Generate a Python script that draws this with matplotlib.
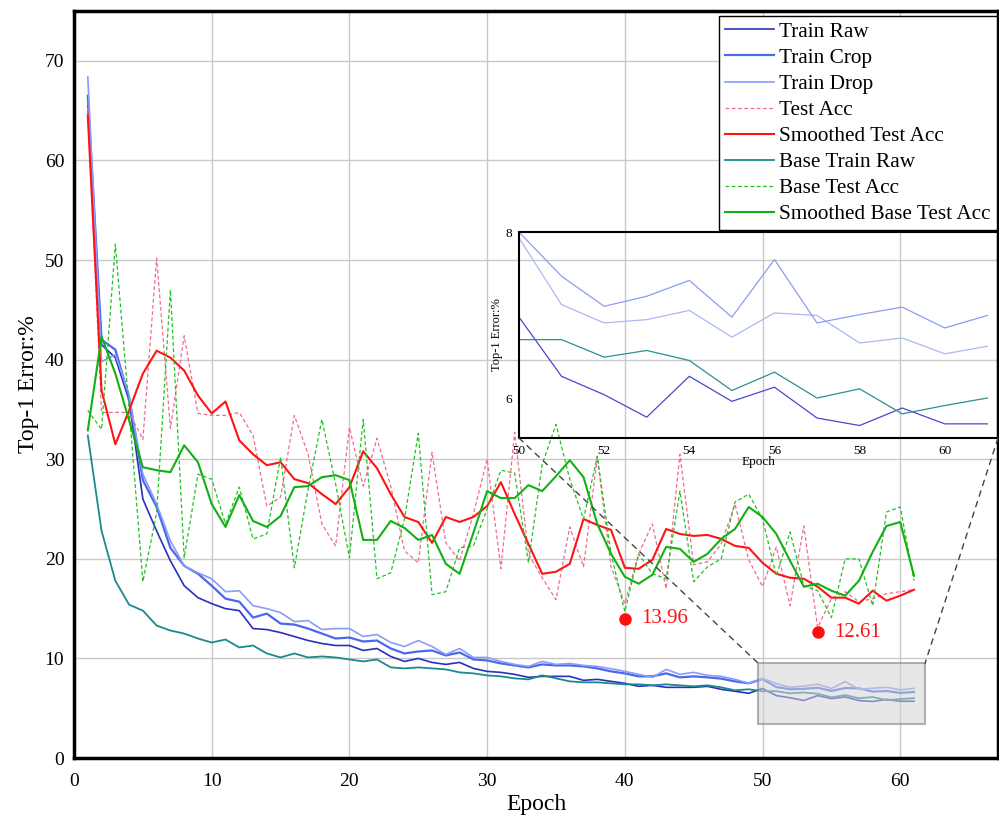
import matplotlib
matplotlib.use('Agg')
import matplotlib.pyplot as plt
from matplotlib.patches import Rectangle, ConnectionPatch

plt.rcParams['font.family'] = ['Liberation Serif', 'DejaVu Serif']

# Epochs 1..61
epochs = list(range(1, 62))

train_raw = [65.5, 41.5, 40.2, 35.9, 26.0, 22.8, 19.8, 17.3, 16.1, 15.5,
             15.0, 14.8, 13.0, 12.9, 12.6, 12.2, 11.8, 11.5, 11.3, 11.3,
             10.8, 11.0, 10.2, 9.7, 10.0, 9.6, 9.4, 9.6, 9.0, 8.7,
             8.6, 8.4, 8.1, 8.2, 8.2, 8.2, 7.8, 7.9, 7.7, 7.5,
             7.2, 7.3, 7.1, 7.1, 7.1, 7.2, 6.9, 6.7, 6.5, 6.98,
             6.27, 6.05, 5.78, 6.27, 5.97, 6.14, 5.77, 5.68, 5.89, 5.70, 5.70]

train_crop = [66.5, 42.0, 41.0, 36.2, 27.9, 25.2, 21.1, 19.3, 18.5, 17.3,
              16.0, 15.7, 14.1, 14.5, 13.5, 13.4, 13.0, 12.5, 12.0, 12.1,
              11.7, 11.8, 11.0, 10.5, 10.7, 10.8, 10.3, 10.6, 9.9, 9.8,
              9.5, 9.3, 9.1, 9.4, 9.3, 9.3, 9.2, 9.0, 8.7, 8.5,
              8.2, 8.2, 8.5, 8.1, 8.2, 8.1, 7.97, 7.7, 7.5, 7.93,
              7.13, 6.91, 6.95, 7.06, 6.74, 7.03, 7.0, 6.67, 6.73, 6.54, 6.63]

train_drop = [68.4, 39.8, 40.5, 36.5, 28.5, 25.5, 21.8, 19.3, 18.6, 18.0,
              16.7, 16.8, 15.3, 15.0, 14.6, 13.7, 13.8, 12.9, 13.0, 13.0,
              12.2, 12.4, 11.6, 11.2, 11.8, 11.2, 10.4, 11.0, 10.1, 10.1,
              9.7, 9.4, 9.2, 9.7, 9.4, 9.5, 9.3, 9.2, 8.97, 8.7,
              8.4, 8.1, 8.9, 8.4, 8.6, 8.3, 8.2, 7.9, 7.5, 8.0,
              7.47, 7.11, 7.23, 7.42, 6.98, 7.67, 6.91, 7.01, 7.10, 6.85, 7.0]

test_acc = [65.3, 34.7, 34.7, 34.7, 32.0, 50.2, 33.1, 42.4, 34.6, 34.4,
            34.4, 34.7, 32.4, 25.3, 26.2, 34.4, 30.5, 23.5, 21.3, 33.2,
            27.3, 32.1, 27.3, 20.8, 19.6, 30.7, 21.6, 19.8, 24.5, 30.0,
            19.0, 32.7, 20.5, 18.1, 15.9, 23.2, 19.2, 30.2, 19.2, 15.5,
            20.5, 23.5, 17.0, 30.5, 19.4, 19.7, 21.5, 25.5, 19.9, 17.2,
            21.2, 15.3, 23.3, 13.1, 16.0, 16.7, 15.7, 16.0, 16.5, 16.7, 16.9]

smooth_test = [64.5, 36.9, 31.5, 34.9, 38.6, 40.9, 40.2, 38.9, 36.4, 34.6,
               35.8, 31.9, 30.5, 29.4, 29.7, 28.0, 27.6, 26.5, 25.5, 27.2,
               30.8, 29.1, 26.5, 24.2, 23.7, 21.6, 24.2, 23.7, 24.2, 25.3,
               27.7, 24.5, 21.5, 18.5, 18.7, 19.5, 24.0, 23.4, 22.9, 19.1,
               19.0, 19.9, 23.0, 22.5, 22.3, 22.4, 22.0, 21.3, 21.1, 19.6,
               18.5, 18.1, 18.0, 17.2, 16.1, 16.1, 15.5, 16.8, 15.8, 16.3, 16.9]

base_train_raw = [32.4, 22.8, 17.8, 15.4, 14.8, 13.3, 12.8, 12.5, 12.0, 11.6,
                  11.9, 11.1, 11.3, 10.5, 10.1, 10.5, 10.1, 10.2, 10.1, 9.9,
                  9.7, 9.9, 9.1, 9.0, 9.1, 9.0, 8.9, 8.6, 8.5, 8.3,
                  8.2, 8.0, 7.9, 8.3, 8.0, 7.7, 7.6, 7.6, 7.5, 7.4,
                  7.4, 7.3, 7.4, 7.3, 7.2, 7.3, 7.1, 6.8, 6.9, 6.71,
                  6.71, 6.50, 6.58, 6.46, 6.10, 6.32, 6.01, 6.12, 5.82, 5.92, 6.01]

base_test = [34.9, 33.0, 51.6, 35.0, 17.7, 24.6, 47.0, 20.1, 28.5, 28.0,
             23.5, 27.2, 22.0, 22.5, 30.2, 19.1, 27.0, 34.0, 27.5, 20.1,
             34.0, 18.0, 18.6, 24.0, 32.6, 16.4, 16.7, 21.1, 21.3, 25.0,
             28.9, 28.6, 19.6, 29.5, 33.5, 28.0, 24.0, 30.3, 20.5, 14.7,
             20.5, 18.5, 18.0, 26.8, 17.7, 19.2, 20.0, 25.7, 26.5, 24.0,
             18.3, 22.7, 17.3, 16.8, 14.1, 20.0, 20.0, 15.3, 24.7, 25.2, 17.8]

smooth_base_test = [32.9, 42.3, 38.6, 33.9, 29.2, 28.9, 28.7, 31.4, 29.7, 25.5,
                    23.2, 26.4, 23.8, 23.2, 24.3, 27.2, 27.3, 28.2, 28.4, 27.9,
                    21.9, 21.9, 23.8, 23.1, 21.9, 22.4, 19.5, 18.5, 22.6, 26.8,
                    26.1, 26.1, 27.4, 26.8, 28.3, 29.9, 28.2, 23.5, 20.5, 18.2,
                    17.5, 18.4, 21.2, 21.0, 19.7, 20.5, 22.0, 23.0, 25.2, 24.2,
                    22.5, 19.8, 17.2, 17.5, 16.8, 16.3, 17.8, 20.7, 23.3, 23.7, 18.3]

# annotated minima
min_epochs = [40, 54]
min_values = [13.96, 12.61]

fig = plt.figure(figsize=(9.99, 8.18), dpi=100)
ax = fig.add_axes([0.0741, 0.0733, 0.9249, 0.9132])

ax.plot(epochs, train_raw, color='#2a2fc0', lw=1.2, label='Train Raw')
ax.plot(epochs, train_crop, color='#4a68ec', lw=1.6, label='Train Crop')
ax.plot(epochs, train_drop, color='#8a9cf8', lw=1.2, label='Train Drop')
ax.plot(epochs, test_acc, color='#f06c8c', lw=0.9, ls=(0, (3, 2)), label='Test Acc')
ax.plot(epochs, smooth_test, color='#ff1414', lw=1.5, label='Smoothed Test Acc')
ax.plot(epochs, base_train_raw, color='#1a8a8c', lw=1.3, label='Base Train Raw')
ax.plot(epochs, base_test, color='#22c022', lw=0.9, ls=(0, (3, 2)), label='Base Test Acc')
ax.plot(epochs, smooth_base_test, color='#12b012', lw=1.5, label='Smoothed Base Test Acc')

ax.plot(min_epochs, min_values, 'o', color='#ff1010', ms=8, zorder=5)
for e, v in zip(min_epochs, min_values):
    ax.annotate('%.2f' % v, (e, v), xytext=(12, 0), textcoords='offset points',
                va='center', ha='left', color='#ff1010', fontsize=15)

ax.set_xlim(0, 67.1)
ax.set_ylim(0, 75)
ax.set_xticks(range(0, 61, 10))
ax.set_yticks(range(0, 71, 10))
ax.tick_params(axis='x', length=0, labelsize=14, pad=11)
ax.tick_params(axis='y', length=0, labelsize=14, pad=7)
ax.grid(color='#c8c8c8', lw=1)
ax.set_axisbelow(True)
for s in ax.spines.values():
    s.set_linewidth(2.5)
ax.set_xlabel('Epoch', fontsize=17, labelpad=3)
ax.set_ylabel('Top-1 Error:%', fontsize=17, labelpad=4)

leg = ax.legend(loc='upper right', bbox_to_anchor=(0.9985, 0.993), borderaxespad=0,
                fontsize=15.3, fancybox=False, framealpha=1, edgecolor='black',
                handlelength=2.3, handletextpad=0.25, labelspacing=0.29, borderpad=0.27)
leg.get_frame().set_linewidth(1.0)

# zoom box in the main chart
ax.add_patch(Rectangle((49.7, 3.4), 12.1, 6.1, facecolor='#d4d4d4', alpha=0.55,
                       edgecolor='#777777', lw=1.5, zorder=4))

# inset
ins = fig.add_axes([0.5195, 0.4645, 0.4795, 0.2518])
ins.set_facecolor('none')
ins.plot(epochs, train_raw, color='#4848d0', lw=0.9)
ins.plot(epochs, train_crop, color='#aab8f4', lw=0.9)
ins.plot(epochs, train_drop, color='#8c9cf0', lw=0.9)
ins.plot(epochs, base_train_raw, color='#2a9090', lw=0.9)
ins.set_xlim(50, 61.25)
ins.set_ylim(5.53, 8.0)
ins.set_xticks(range(50, 61, 2))
ins.set_yticks([6, 8])
ins.tick_params(length=0, labelsize=9.5, pad=5)
for s in ins.spines.values():
    s.set_linewidth(1.5)
ins.set_xlabel('Epoch', fontsize=9.5, labelpad=-1)
ins.set_ylabel('Top-1 Error:%', fontsize=9, labelpad=2)

for xa, xb in [((0, 0), (49.7, 9.5)), ((1, 0), (61.8, 9.5))]:
    cp = ConnectionPatch(xyA=xa, coordsA=ins.transAxes, xyB=xb, coordsB=ax.transData,
                         color='#444444', lw=1.0, ls=(0, (4, 4)))
    fig.add_artist(cp)

fig.savefig('out.png', dpi=100)
